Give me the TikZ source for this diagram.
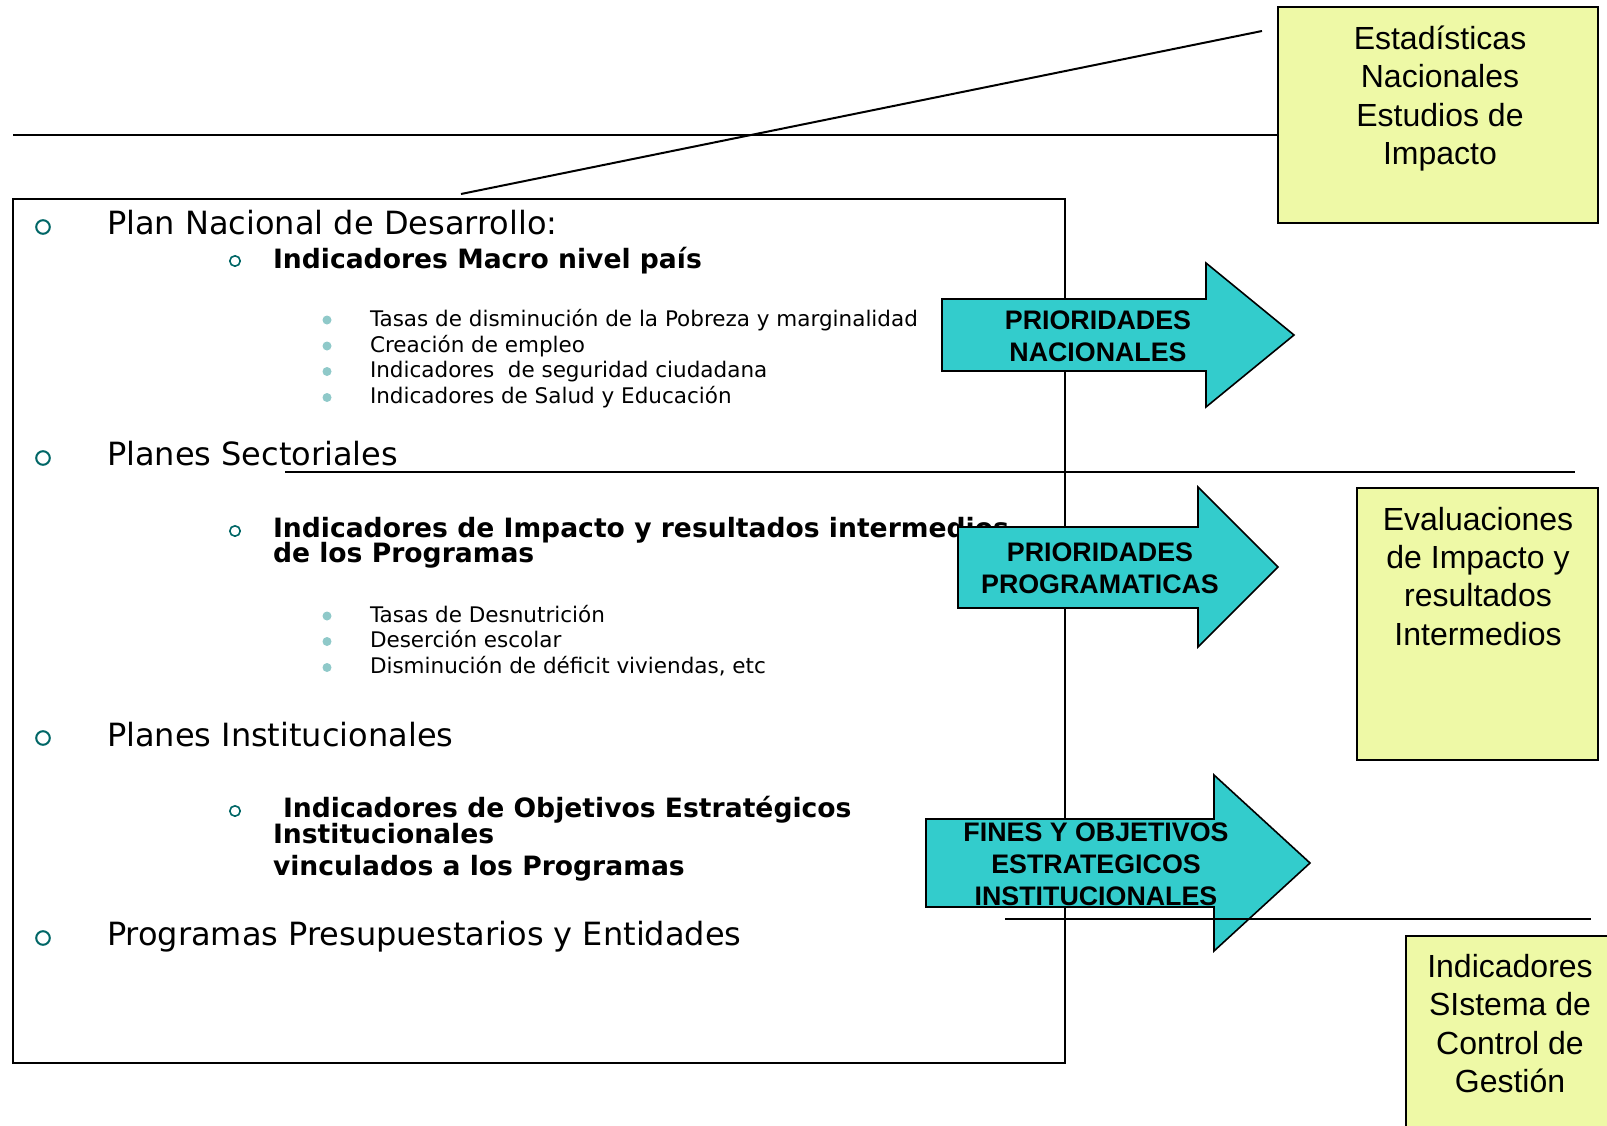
\documentclass[tikz,border=0pt]{standalone}
\usepackage{fontspec}
\setmainfont{Liberation Sans}
\newfontfamily\verd{DejaVu Sans}
\definecolor{arrowteal}{RGB}{51,204,204}
\definecolor{paleyellow}{RGB}{238,249,166}
\definecolor{bulletteal}{RGB}{0,102,102}
\definecolor{dotteal}{RGB}{143,201,201}
\begin{document}
\begin{tikzpicture}[x=0.5pt,y=-0.5pt,
  every node/.style={inner sep=0pt, outer sep=0pt},
  lvlone/.style={anchor=base west, font=\verd\fontsize{16pt}{19pt}\selectfont},
  lvltwo/.style={anchor=base west, font=\verd\bfseries\fontsize{13.3pt}{16pt}\selectfont},
  lvlthree/.style={anchor=base west, font=\verd\fontsize{10.75pt}{13pt}\selectfont},
  ringone/.style={circle, draw=bulletteal, line width=1pt, minimum size=6.8pt},
  ringtwo/.style={circle, draw=bulletteal, line width=0.8pt, minimum size=5.2pt},
  dot/.style={circle, fill=dotteal, minimum size=4.5pt},
  ybox/.style={draw, line width=1pt, fill=paleyellow, anchor=north west},
  boxtext/.style={anchor=north, align=center, font=\fontsize{16pt}{19.2pt}\selectfont},
  arrowshape/.style={draw, line width=0.8pt, fill=arrowteal},
  arrowtext/.style={anchor=north, align=center, font=\bfseries\fontsize{13.4pt}{16pt}\selectfont},
  plainline/.style={draw, line width=1pt}
]
\useasboundingbox (0,0) rectangle (1607,1125);

% main box
\node[draw, line width=1pt, anchor=north west, minimum width=526pt, minimum height=432pt] (mainbox) at (13,199) {};

% level one
\node[ringone] (r1) at (43,227) {};
\node[lvlone] (t1) at (107,234) {Plan Nacional de Desarrollo:};
\node[ringone] (r2) at (43,458) {};
\node[lvlone] (t2) at (107,465) {Planes Sectoriales};
\node[ringone] (r3) at (43,738) {};
\node[lvlone] (t3) at (107,746) {Planes Institucionales};
\node[ringone] (r4) at (43,938) {};
\node[lvlone] (t4) at (107,945) {Programas Presupuestarios y Entidades};

% level two
\node[ringtwo] (s1) at (235,261) {};
\node[lvltwo] (u1) at (273,268) {Indicadores Macro nivel país};
\node[ringtwo] (s2) at (235,531) {};
\node[lvltwo] (u2) at (273,537) {Indicadores de Impacto y resultados intermedios};
\node[lvltwo] (u2b) at (273,562) {de los Programas};
\node[ringtwo] (s3) at (235,811) {};
\node[lvltwo] (u3) at (283,817) {Indicadores de Objetivos Estratégicos};
\node[lvltwo] (u3b) at (273,843) {Institucionales};
\node[lvltwo] (u3c) at (273,875) {vinculados a los Programas};

% level three
\node[dot] (d1) at (327,320) {};
\node[lvlthree] (v1) at (370,326) {Tasas de disminución de la Pobreza y marginalidad};
\node[dot] (d2) at (327,346) {};
\node[lvlthree] (v2) at (370,352) {Creación de empleo};
\node[dot] (d3) at (327,371.5) {};
\node[lvlthree] (v3) at (370,377.5) {Indicadores\ \ de seguridad ciudadana};
\node[dot] (d4) at (327,397.5) {};
\node[lvlthree] (v4) at (370,403.5) {Indicadores de Salud y Educación};
\node[dot] (d5) at (327,616) {};
\node[lvlthree] (v5) at (370,622) {Tasas de Desnutrición};
\node[dot] (d6) at (327,641.5) {};
\node[lvlthree] (v6) at (370,647.5) {Deserción escolar};
\node[dot] (d7) at (327,667.5) {};
\node[lvlthree] (v7) at (370,673.5) {Disminución de déficit viviendas, etc};

% yellow boxes
\node[ybox, minimum width=160pt, minimum height=108pt] (stat) at (1278,7) {};
\node[boxtext] (stattxt) at (1440,17.5) {\rule{0pt}{16pt}Estadísticas\\Nacionales\\Estudios de\\Impacto};
\node[ybox, minimum width=120.5pt, minimum height=136pt] (eval) at (1357,488) {};
\node[boxtext] (evaltxt) at (1478,498) {\rule{0pt}{16pt}Evaluaciones\\de Impacto y\\resultados\\Intermedios};
\begin{scope}
\clip (0,0) rectangle (1607,1125);
\node[ybox, minimum width=106pt, minimum height=100pt] (ctrl) at (1406,936) {};
\end{scope}
\node[boxtext] (ctrltxt) at (1510,945.5) {\rule{0pt}{16pt}Indicadores\\SIstema de\\Control de\\Gestión};

% top lines
\coordinate (tl) at (13,135);
\draw[plainline] (tl) -- (tl -| stat.west);
\coordinate (dg1) at (461,194);
\coordinate (dg2) at (1262,31);
\draw[plainline] (dg1) -- (dg2);

% arrows
\draw[arrowshape] (942,299) -- (1206,299) -- (1206,263) -- (1294,335) -- (1206,407) -- (1206,371) -- (942,371) -- cycle;
\node[arrowtext] (a1) at (1098,303) {\rule{0pt}{13.4pt}PRIORIDADES\\NACIONALES};
\draw[arrowshape] (958,527) -- (1198,527) -- (1198,487) -- (1278,567) -- (1198,647) -- (1198,608) -- (958,608) -- cycle;
\node[arrowtext] (a2) at (1100,535) {\rule{0pt}{13.4pt}PRIORIDADES\\PROGRAMATICAS};
\draw[arrowshape] (926,819) -- (1214,819) -- (1214,775) -- (1310,863) -- (1214,951) -- (1214,907) -- (926,907) -- cycle;
\node[arrowtext] (a3) at (1096,815) {\rule{0pt}{13.4pt}FINES Y OBJETIVOS\\ESTRATEGICOS\\INSTITUCIONALES};

% separator lines
\coordinate (m1) at (285,472);
\coordinate (m2) at (1575,472);
\draw[plainline] (m1) -- (m2);
\coordinate (n1) at (1005,919);
\coordinate (n2) at (1591,919);
\draw[plainline] (n1) -- (n2);
\end{tikzpicture}
\end{document}
